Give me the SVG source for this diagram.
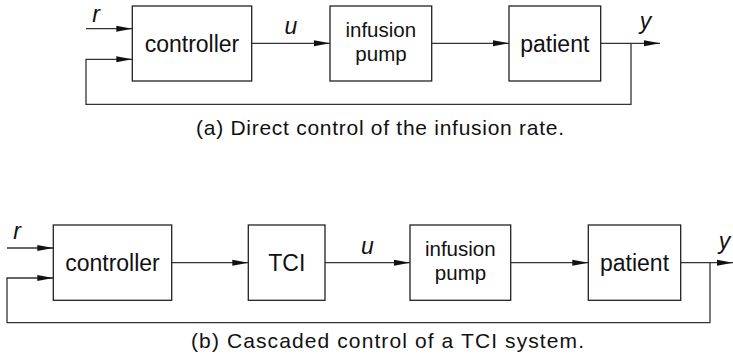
<svg xmlns="http://www.w3.org/2000/svg" width="733" height="364" viewBox="0 0 733 364">
<style>
.box{fill:#fff;stroke:#222;stroke-width:1.3}
.ln{fill:none;stroke:#333;stroke-width:1.3}
.arr{marker-end:url(#ah)}
text{font-family:'Liberation Sans',Arial,sans-serif;fill:#111;text-anchor:middle}
.t{font-size:23px}
.p{font-size:20.5px}
.v{font-size:23px;font-style:italic}
.cap{font-size:21px}
</style>
<defs>
<marker id="ah" markerUnits="userSpaceOnUse" markerWidth="17" markerHeight="7" refX="16" refY="3" orient="auto" viewBox="0 0 17 6">
<path d="M0,0 L16,3 L0,6 Z" fill="#111"/>
</marker>
</defs>
<rect width="733" height="364" fill="#fff"/>

<g id="connectors">
<path class="ln arr" d="M86,28.7 H132.3"/>
<path class="ln arr" d="M631,43.3 V104.3 H86 V59.3 H132.3"/>
<path class="ln arr" d="M251.7,43.3 H330"/>
<path class="ln arr" d="M431.7,43.3 H509"/>
<path class="ln arr" d="M600.7,43.3 H660"/>
<path class="ln arr" d="M7,248 H53.3"/>
<path class="ln arr" d="M710,262.7 V322.7 H7 V278 H53.3"/>
<path class="ln arr" d="M171.7,262.7 H248.3"/>
<path class="ln arr" d="M325,262.7 H410"/>
<path class="ln arr" d="M510.7,262.7 H588.3"/>
<path class="ln arr" d="M680.7,262.7 H733"/>
</g>

<g id="labels">
<text class="v" x="96" y="21.5">r</text>
<text class="v" x="291" y="34">u</text>
<text class="v" x="645.5" y="29">y</text>
<text class="v" x="17" y="239">r</text>
<text class="v" x="367.5" y="254">u</text>
<text class="v" x="724.5" y="248.5">y</text>
</g>

<g id="a-controller">
<rect class="box" x="132.3" y="6" width="119.4" height="75"/>
<text class="t" x="192" y="52">controller</text>
</g>
<g id="a-pump">
<rect class="box" x="330" y="6" width="101.7" height="75"/>
<text class="p" x="380.8" y="37">infusion</text>
<text class="p" x="381" y="61">pump</text>
</g>
<g id="a-patient">
<rect class="box" x="509" y="6" width="91.7" height="75"/>
<text class="t" x="554.8" y="52">patient</text>
</g>
<text id="caption-a" class="cap" x="380" y="135" textLength="368">(a) Direct control of the infusion rate.</text>

<g id="b-controller">
<rect class="box" x="53.3" y="225" width="118.4" height="75.3"/>
<text class="t" x="112.5" y="271">controller</text>
</g>
<g id="b-tci">
<rect class="box" x="248.3" y="225" width="76.7" height="75.3"/>
<text class="t" x="286.8" y="271">TCI</text>
</g>
<g id="b-pump">
<rect class="box" x="410" y="225" width="100.7" height="75.3"/>
<text class="p" x="460.3" y="256">infusion</text>
<text class="p" x="460.5" y="280">pump</text>
</g>
<g id="b-patient">
<rect class="box" x="588.3" y="225" width="92.4" height="75.3"/>
<text class="t" x="634.5" y="271">patient</text>
</g>
<text id="caption-b" class="cap" x="387.5" y="348" textLength="393">(b) Cascaded control of a TCI system.</text>
</svg>
